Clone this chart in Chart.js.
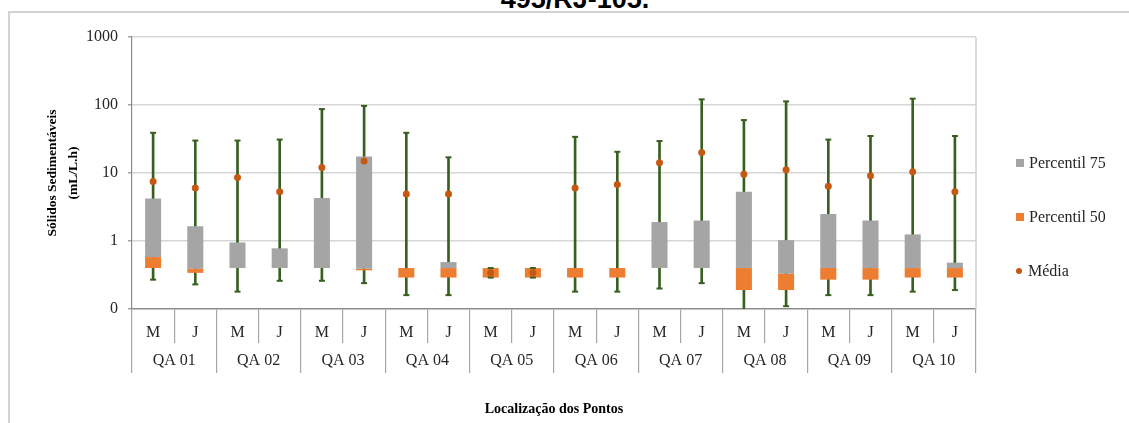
<!DOCTYPE html>
<html lang="pt">
<head>
<meta charset="utf-8">
<title>Sólidos Sedimentáveis por ponto</title>
<script src="https://cdn.jsdelivr.net/npm/chart.js@4.4.1/dist/chart.umd.min.js"></script>
<style>
  html, body { margin: 0; padding: 0; background: #fff; overflow: hidden; }
  #page { position: relative; width: 1129px; height: 423px; overflow: hidden; background: #fff; }
  #frame { position: absolute; left: 8px; top: 11px; right: -10px; bottom: -10px;
           border-top: 2px solid #d2d2d2; border-left: 2px solid #d2d2d2; }
  #caption { position: absolute; left: 0; width: 1150px; top: -14px; text-align: center;
             font: bold 27px "Liberation Sans", Arial, sans-serif; line-height: 27px; color: #000; }
  #chartBox { position: absolute; left: 0; top: 0; width: 1129px; height: 423px; }
  #legend { position: absolute; left: 1012px; top: 0; font: 16px "Liberation Serif", "Times New Roman", serif; color: #262626; }
  .item { position: absolute; left: 0; white-space: nowrap; height: 20px; line-height: 20px; }
  .swatch { display: inline-block; vertical-align: middle; margin-right: 5px; position: relative; top: -1px; }
</style>
</head>
<body>
<div id="page">
  <div id="frame"></div>
  <div id="caption">495/RJ-105.</div>
  <div id="chartBox"><canvas id="chart"></canvas></div>
  <div id="legend"></div>
</div>
<script>
// Campaigns (M, J) for each sampling point
const categories = ['M','J','M','J','M','J','M','J','M','J','M','J','M','J','M','J','M','J','M','J'];
const groupLabels = ['QA 01','QA 02','QA 03','QA 04','QA 05','QA 06','QA 07','QA 08','QA 09','QA 10'];

// Settleable solids (mL/L.h) per campaign
const minVals  = [0.27, 0.23, 0.18, 0.26, 0.26, 0.24, 0.16, 0.16, 0.29, 0.29, 0.18, 0.18, 0.20, 0.24, 0.08, 0.11, 0.16, 0.16, 0.18, 0.19];
const p25Vals  = [0.40, 0.34, 0.40, 0.40, 0.40, 0.37, 0.29, 0.29, 0.29, 0.29, 0.29, 0.29, 0.40, 0.40, 0.19, 0.19, 0.27, 0.27, 0.29, 0.29];
const p50Vals  = [0.58, 0.39, 0.40, 0.40, 0.40, 0.39, 0.40, 0.40, 0.40, 0.40, 0.40, 0.40, 0.40, 0.40, 0.40, 0.33, 0.40, 0.40, 0.40, 0.40];
const p75Vals  = [4.2, 1.65, 0.95, 0.78, 4.3, 17.5, 0.40, 0.49, 0.40, 0.40, 0.40, 0.40, 1.9, 2.0, 5.3, 1.03, 2.5, 2.0, 1.25, 0.48];
const maxVals  = [39, 30, 30, 31, 87, 97, 39, 17, 0.40, 0.40, 34, 20.5, 29.5, 121, 60, 113, 31, 35, 124, 35];
const meanVals = [7.5, 6.0, 8.6, 5.3, 12, 15, 4.9, 4.9, 0.34, 0.34, 6.0, 6.8, 14.2, 20, 9.6, 11.2, 6.4, 9.1, 10.4, 5.3];

// Log axis ticks and their printed labels
const yTickValues = [0.1, 1, 10, 100, 1000];
const yTickLabels = ['0', '1', '10', '100', '1000'];

const legendOrder = ['Percentil 75', 'Percentil 50', 'Média'];

const GREEN = '#375f1f';
const SERIF = '"Liberation Serif", "Times New Roman", serif';
const pair = (a, b) => a.map((v, i) => [v, b[i]]);

Chart.defaults.font.family = SERIF;
Chart.defaults.color = '#262626';

// Right edge of the plot area
const plotFrame = {
  id: 'plotFrame',
  beforeDatasetsDraw(chart) {
    const { ctx, chartArea: { top, bottom, right } } = chart;
    ctx.save();
    ctx.strokeStyle = '#d0d0d0';
    ctx.lineWidth = 1.5;
    ctx.beginPath();
    ctx.moveTo(right, top);
    ctx.lineTo(right, bottom);
    ctx.stroke();
    ctx.restore();
  }
};

const boxStyle = { grouped: false, barPercentage: 0.38, categoryPercentage: 1, borderWidth: 0 };

const chart = new Chart(document.getElementById('chart'), {
  data: {
    labels: categories,
    datasets: [
      Object.assign({ type: 'bar', label: 'Percentil 75', data: pair(p50Vals, p75Vals),
        backgroundColor: '#a5a5a5', order: 2 }, boxStyle),
      Object.assign({ type: 'bar', label: 'Percentil 50', data: pair(p25Vals, p50Vals),
        backgroundColor: '#ed7d31', order: 2 }, boxStyle),
      { type: 'line', label: 'Média', data: meanVals, showLine: false,
        backgroundColor: '#c65911', borderColor: '#c65911',
        pointRadius: 3.5, pointBorderWidth: 0, pointBackgroundColor: '#c65911', order: 0 },
      { type: 'bar', label: 'Amplitude', data: pair(minVals, maxVals), grouped: false,
        backgroundColor: GREEN, barThickness: 2, borderWidth: 0, order: 4 },
      { type: 'line', label: 'Máximo', data: maxVals, showLine: false, pointStyle: 'line',
        pointRadius: 3, pointBorderWidth: 2, borderColor: GREEN, pointBorderColor: GREEN, order: 1 },
      { type: 'line', label: 'Mínimo', data: minVals, showLine: false, pointStyle: 'line',
        pointRadius: 3, pointBorderWidth: 2, borderColor: GREEN, pointBorderColor: GREEN, order: 1 }
    ]
  },
  options: {
    responsive: true,
    maintainAspectRatio: false,
    animation: false,
    events: [],
    layout: { padding: { left: 0, top: 37, right: 153, bottom: 0 } },
    plugins: { legend: { display: false }, tooltip: { enabled: false } },
    scales: {
      y: {
        type: 'logarithmic',
        min: 0.1,
        max: 1000,
        afterBuildTicks: (scale) => { scale.ticks = yTickValues.map(v => ({ value: v })); },
        afterFit: (scale) => { scale.width = 132; },
        ticks: {
          padding: 10,
          font: { size: 16 },
          callback: (value) => yTickLabels[yTickValues.indexOf(value)]
        },
        grid: {
          color: (ctx) => (ctx.tick && ctx.tick.value === 0.1) ? 'rgba(0,0,0,0)' : '#d6d6d6',
          tickColor: '#8c8c8c',
          lineWidth: 1.6,
          tickLength: 4,
          tickWidth: 1.2
        },
        border: { display: true, color: '#8c8c8c', width: 1.2 },
        title: {
          display: true,
          text: ['Sólidos Sedimentáveis', '(mL/L.h)'],
          font: { size: 13.5, weight: 'bold', lineHeight: 1.55 },
          color: '#000',
          padding: { top: 42, bottom: 0 }
        }
      },
      x: {
        type: 'category',
        position: 'bottom',
        weight: 0,
        offset: true,
        afterFit: (scale) => { scale.height = 34; },
        ticks: { padding: -20, font: { size: 16 }, autoSkip: false, maxRotation: 0, minRotation: 0 },
        grid: { offset: true, drawOnChartArea: false, drawTicks: true, tickLength: 34,
                color: '#a6a6a6', lineWidth: 1.2 },
        border: { display: true, color: '#8c8c8c', width: 1.5 }
      },
      x2: {
        type: 'category',
        labels: groupLabels,
        position: 'bottom',
        weight: 1,
        offset: true,
        afterFit: (scale) => { scale.height = 80; },
        ticks: { padding: -22, font: { size: 16 }, autoSkip: false, maxRotation: 0, minRotation: 0 },
        grid: { offset: true, drawOnChartArea: false, drawTicks: true, tickLength: 30,
                color: '#a6a6a6', lineWidth: 1.2 },
        border: { display: false },
        title: {
          display: true,
          text: 'Localização dos Pontos',
          font: { size: 14, weight: 'bold', lineHeight: 1.2 },
          color: '#000',
          padding: { top: 0, bottom: 5 }
        }
      }
    }
  },
  plugins: [plotFrame]
});

// Legend built from the chart's own legend items
(function buildLegend() {
  const items = Chart.defaults.plugins.legend.labels.generateLabels(chart);
  const box = document.getElementById('legend');
  const firstCenter = 163, step = 54;
  legendOrder.forEach((name, row) => {
    const it = items.find(i => i.text === name);
    if (!it) return;
    const ds = chart.data.datasets[it.datasetIndex];
    const el = document.createElement('div');
    el.className = 'item';
    el.style.top = (firstCenter + row * step - 10) + 'px';
    const sw = document.createElement('span');
    sw.className = 'swatch';
    if (ds.type === 'line') {
      sw.style.width = '6px'; sw.style.height = '6px'; sw.style.borderRadius = '50%';
      sw.style.marginLeft = '4px'; sw.style.marginRight = '6px';
    } else {
      sw.style.width = '8px'; sw.style.height = '8px';
      sw.style.marginLeft = '4px';
    }
    sw.style.background = it.fillStyle;
    el.appendChild(sw);
    el.appendChild(document.createTextNode(it.text));
    box.appendChild(el);
  });
})();
</script>
</body>
</html>
